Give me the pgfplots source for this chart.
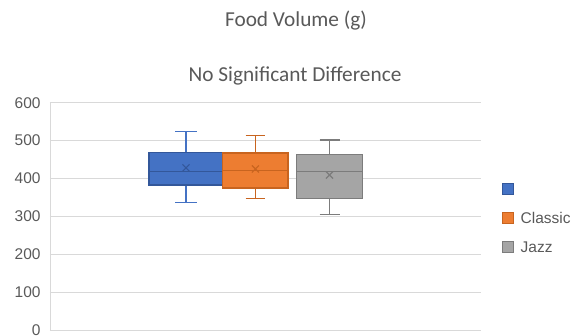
\documentclass[border=0pt]{standalone}
\usepackage{pgfplots}
\pgfplotsset{compat=1.18}
\usepgfplotslibrary{statistics}
\usepackage{fontspec}
\setmainfont{Carlito}
\newfontfamily\arialf{Liberation Sans}
\definecolor{blueF}{HTML}{4472C4}
\definecolor{blueD}{HTML}{33579A}
\definecolor{orangeF}{HTML}{ED7D31}
\definecolor{orangeD}{HTML}{C8641F}
\definecolor{grayF}{HTML}{A5A5A5}
\definecolor{grayD}{HTML}{7C7C7C}
\definecolor{gridgray}{HTML}{D9D9D9}
\definecolor{textgray}{HTML}{595959}
\begin{document}
\begin{tikzpicture}
\begin{axis}[
  at={(50pt,6pt)}, anchor=south west,
  scale only axis, width=431pt, height=227.3pt,
  xmin=50, xmax=481, ymin=0, ymax=600,
  ytick={0,100,...,600}, xtick=\empty,
  ymajorgrids, grid style={draw=gridgray, line width=0.9pt},
  axis x line*=bottom, axis y line*=left,
  axis line style={draw=gridgray, line width=0.9pt, -},
  major tick length=0pt,
  /pgf/number format/assume math mode=true,
  yticklabel style={font=\arialf\fontsize{15.5}{18}\selectfont, text=textgray, inner sep=0pt, xshift=-9.3pt},
  legend style={at={(1.048,0.6489)}, anchor=north west, draw=none, fill=none, inner sep=0pt,
    font=\arialf\fontsize{15.5}{18}\selectfont, text=textgray, row sep=17.5pt,
    cells={anchor=west}, nodes={inner sep=0pt, text height=11pt, text depth=0pt},
    /tikz/every odd column/.append style={column sep=7pt}},
  legend cell align=left,
  boxplot/draw direction=y,
]
\addplot[boxplot prepared={draw position=186, box extend=74, whisker extend=22,
    lower whisker=337, lower quartile=383, median=418, upper quartile=468, upper whisker=523.5, average=428},
  draw=blueD, line width=1.2pt,
  boxplot/every box/.style={draw=blueD, fill=blueF},
  boxplot/every whisker/.style={draw=blueF},
  boxplot/every median/.style={draw=blueD},
  boxplot/every average/.style={/tikz/mark=x, /tikz/mark size=5pt},
  legend image code/.code={\draw[draw=blueD, fill=blueF, line width=0.8pt] (0pt,-5.5pt) rectangle (11pt,5.5pt);}]
  coordinates {};
\addlegendentry{\mbox{}}
\addplot[boxplot prepared={draw position=255.4, box extend=65.3, whisker extend=19.5,
    lower whisker=347, lower quartile=375, median=422, upper quartile=467, upper whisker=514, average=425},
  draw=orangeD, line width=1.2pt,
  boxplot/every box/.style={draw=orangeD, fill=orangeF},
  boxplot/every whisker/.style={draw=orangeD},
  boxplot/every median/.style={draw=orangeD},
  boxplot/every average/.style={/tikz/mark=x, /tikz/mark size=5pt},
  legend image code/.code={\draw[draw=orangeD, fill=orangeF, line width=0.8pt] (0pt,-5.5pt) rectangle (11pt,5.5pt);}]
  coordinates {};
\addlegendentry{Classic}
\addplot[boxplot prepared={draw position=329.5, box extend=65.3, whisker extend=20,
    lower whisker=305.4, lower quartile=347.6, median=418, upper quartile=463.8, upper whisker=501.5, average=409},
  draw=grayD, line width=1.2pt,
  boxplot/every box/.style={draw=grayD, fill=grayF},
  boxplot/every whisker/.style={draw=grayD},
  boxplot/every median/.style={draw=grayD},
  boxplot/every average/.style={/tikz/mark=x, /tikz/mark size=5pt},
  legend image code/.code={\draw[draw=grayD, fill=grayF, line width=0.8pt] (0pt,-5.5pt) rectangle (11pt,5.5pt);}]
  coordinates {};
\addlegendentry{Jazz}
\end{axis}
\node[anchor=base, text=textgray, font=\fontsize{21.3}{24}\selectfont, inner sep=0pt] at (296pt,309.3pt) {Food Volume (g)};
\node[anchor=base, text=textgray, font=\fontsize{21.3}{24}\selectfont, inner sep=0pt] at (295pt,254.3pt) {No Significant Difference};
\pgfresetboundingbox
\path[use as bounding box] (0pt,0pt) rectangle (571pt,336pt);
\end{tikzpicture}
\end{document}
